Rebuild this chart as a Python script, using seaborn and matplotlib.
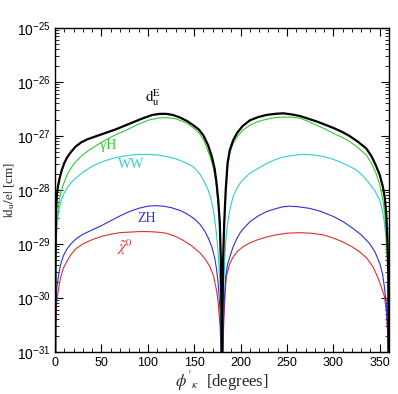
import numpy as np
import pandas as pd
import matplotlib
matplotlib.use("Agg")
import matplotlib.pyplot as plt
import seaborn as sns
from matplotlib.ticker import FixedLocator, LogLocator, FuncFormatter, NullFormatter

# ---- data (phi in degrees, log10 |d_u/e| in cm) ----
phi_dE = [0, 0.5, 1, 2, 3, 5, 7, 10, 13, 17, 22, 28, 35, 45, 55, 65, 75, 85, 95, 105, 113, 120, 127, 135, 142,
          149, 155, 160, 165, 169, 172, 174, 176, 177.6, 178.8, 179.5, 180,
          180.5, 181.2, 182.4, 184, 186, 188.4, 192, 196, 202, 210, 219, 228, 237, 246, 255, 264, 273, 282, 291,
          300, 309, 317.5, 326, 335.5, 341, 346, 350, 353.4, 355.5, 357, 358.3, 359.3, 360]
log_dE = [-33, -29.5, -28.4, -28.1, -27.95, -27.78, -27.65, -27.5, -27.4, -27.3, -27.2, -27.12, -27.06, -27.0,
          -26.94, -26.88, -26.81, -26.74, -26.67, -26.61, -26.59, -26.59, -26.61, -26.66, -26.72,
          -26.8, -26.88, -26.99, -27.17, -27.38, -27.6, -27.85, -28.2, -28.6, -29.3, -30.3, -33,
          -30.3, -29.3, -28.6, -28.0, -27.5, -27.26, -27.08, -26.95, -26.82, -26.71, -26.65, -26.61, -26.59,
          -26.58, -26.6, -26.63, -26.68, -26.73, -26.79,
          -26.85, -26.92, -27.0, -27.1, -27.23, -27.37, -27.55, -27.72, -27.94, -28.15, -28.43, -28.9, -29.6, -33]

phi_gH = [0, 0.5, 1, 2, 3, 5, 7, 10, 13, 17, 22, 28, 35, 45, 55, 65, 77, 90, 102, 111, 120, 130, 142, 150, 156,
          161, 165, 169, 172, 174, 176, 178, 179.3, 180,
          180.7, 182, 184, 186, 188.4, 192, 196, 202, 210, 219, 228, 237, 246, 255, 264, 273, 282, 291, 300, 309,
          317.5, 326, 335.5, 341, 346, 350, 353.4, 355.5, 357, 358.5, 359.4, 360]
log_gH = [-33, -30, -29.0, -28.6, -28.4, -28.15, -28.0, -27.85, -27.72, -27.6, -27.48, -27.38, -27.28, -27.17,
          -27.07, -26.98, -26.89, -26.78, -26.7, -26.67, -26.66, -26.68, -26.76, -26.86, -26.96,
          -27.1, -27.28, -27.48, -27.7, -27.94, -28.3, -28.85, -29.8, -33,
          -29.8, -28.9, -28.1, -27.58, -27.32, -27.14, -27.02, -26.9, -26.8, -26.73, -26.69, -26.66, -26.65,
          -26.65, -26.67, -26.73, -26.8, -26.87, -26.95, -27.02,
          -27.1, -27.21, -27.35, -27.5, -27.69, -27.9, -28.19, -28.45, -28.8, -29.3, -30.0, -33]

phi_WW = [0, 0.5, 1, 2, 3.5, 5, 7, 10, 14, 18, 23, 30, 41, 52, 63, 75, 88, 100, 110, 120, 130, 140, 149, 156,
          161, 165, 168, 171, 174, 176, 178, 179.3, 180,
          180.7, 182, 183.5, 185, 188, 192, 196, 200, 205, 210, 219, 228, 237, 246, 256, 267, 278, 289, 298, 307,
          316, 325, 332, 339, 345, 350, 353, 355, 357, 358.5, 359.4, 360]
log_WW = [-33, -30, -29.1, -28.75, -28.45, -28.3, -28.18, -28.05, -27.94, -27.85, -27.77, -27.67, -27.55, -27.47,
          -27.41, -27.37, -27.34, -27.34, -27.35, -27.38, -27.42, -27.49, -27.57, -27.7,
          -27.85, -28.0, -28.15, -28.4, -28.8, -29.2, -29.8, -30.6, -33,
          -30.6, -29.7, -29.1, -28.75, -28.4, -28.12, -27.97, -27.86, -27.77, -27.69, -27.6, -27.51, -27.44,
          -27.39, -27.36, -27.34, -27.35, -27.38, -27.42, -27.48,
          -27.55, -27.63, -27.74, -27.88, -28.02, -28.19, -28.38, -28.6, -28.95, -29.4, -30.1, -33]

phi_ZH = [0, 0.3, 1, 2, 3.6, 6, 9, 12.6, 17, 23, 30, 40, 50, 60, 70, 80, 90, 100, 108, 117, 126, 135, 143, 150,
          156, 161, 165, 169, 172, 174, 176, 178, 179.4, 180,
          180.6, 182, 184, 186, 188.4, 192, 196, 200, 205, 210, 219, 228, 237, 246, 253, 262, 274.5, 287, 300,
          311, 321, 330, 339, 345, 350, 353, 355, 357, 358.5, 359.5, 360]
log_ZH = [-33, -31, -30.1, -29.8, -29.6, -29.38, -29.22, -29.1, -29.0, -28.9, -28.82, -28.74, -28.66, -28.57,
          -28.48, -28.4, -28.34, -28.3, -28.29, -28.3, -28.33, -28.38, -28.45, -28.53,
          -28.63, -28.75, -28.88, -29.05, -29.25, -29.45, -29.75, -30.25, -31.0, -33,
          -31.0, -30.2, -29.6, -29.38, -29.24, -29.05, -28.9, -28.78, -28.68, -28.59, -28.48, -28.4, -28.35,
          -28.31, -28.3, -28.31, -28.34, -28.4, -28.49,
          -28.59, -28.71, -28.83, -28.99, -29.15, -29.36, -29.55, -29.79, -30.1, -30.6, -31.2, -33]

phi_chi = [0, 0.3, 1, 2, 3.6, 6, 9, 12.6, 17, 23, 30, 40, 50, 60, 70, 80, 91.5, 100, 110, 120, 130, 138, 147,
           156, 162, 167, 171, 174, 176, 178, 179.4, 180,
           180.6, 182, 183.5, 184.8, 188, 192, 197, 202.7, 210, 217, 228, 238.6, 250, 263.7, 276, 289, 300, 310,
           320, 328, 336, 342.6, 347, 351.6, 355.2, 357.5, 359, 359.7, 360]
log_chi = [-33, -31.2, -30.4, -30.05, -29.85, -29.62, -29.45, -29.33, -29.2, -29.08, -29.0, -28.92, -28.86,
           -28.82, -28.79, -28.78, -28.77, -28.77, -28.78, -28.8, -28.86, -28.93, -29.03,
           -29.16, -29.28, -29.42, -29.6, -29.85, -30.1, -30.55, -31.2, -33,
           -31.2, -30.4, -29.85, -29.6, -29.38, -29.24, -29.13, -29.05, -28.98, -28.93, -28.87, -28.83, -28.8,
           -28.79, -28.8, -28.83, -28.89, -28.96,
           -29.05, -29.14, -29.26, -29.42, -29.58, -29.79, -29.98, -30.3, -30.8, -31.3, -33]

x_ticks = [0, 50, 100, 150, 200, 250, 300, 350]
y_ticks = [1e-31, 1e-30, 1e-29, 1e-28, 1e-27, 1e-26, 1e-25]

series = [
    ("dE", phi_dE, log_dE, "#000000", 1.6),
    ("gH", phi_gH, log_gH, "#2fcc2f", 0.8),
    ("WW", phi_WW, log_WW, "#2fcfcf", 0.8),
    ("ZH", phi_ZH, log_ZH, "#2f2fdf", 0.8),
    ("chi", phi_chi, log_chi, "#df2f2f", 0.8),
]

sns.set_style("ticks")
plt.rcParams["mathtext.fontset"] = "custom"
plt.rcParams["mathtext.rm"] = "Liberation Sans"
plt.rcParams["mathtext.it"] = "Liberation Sans:italic"
plt.rcParams["mathtext.sf"] = "Liberation Sans"
plt.rcParams["font.family"] = ["Liberation Sans", "DejaVu Sans"]

fig = plt.figure(figsize=(3.98, 3.94), dpi=100)
ax = fig.add_axes([55 / 398, 1 - 352 / 394, (389 - 55) / 398, (352 - 28) / 394])

for name, xs, ls, col, lw in reversed(series):
    df = pd.DataFrame({"phi": xs, "d": np.power(10.0, ls)})
    sns.lineplot(data=df, x="phi", y="d", ax=ax, color=col, lw=lw, sort=False, estimator=None)

ax.set_yscale("log")
ax.set_xlim(0, 360)
ax.set_ylim(1e-31, 1e-25)

ax.xaxis.set_major_locator(FixedLocator(x_ticks))
ax.xaxis.set_minor_locator(FixedLocator(list(range(0, 361, 10))))
ax.yaxis.set_major_locator(FixedLocator(y_ticks))
ax.yaxis.set_minor_locator(LogLocator(base=10, subs=np.arange(2, 10), numticks=20))
ax.yaxis.set_minor_formatter(NullFormatter())
ax.yaxis.set_major_formatter(FuncFormatter(lambda v, p: r"$\mathsf{10^{%d}}$" % int(round(np.log10(v)))))
ax.xaxis.set_major_formatter(FuncFormatter(lambda v, p: "%d" % v))

ax.tick_params(which="both", direction="in", top=True, right=True, colors="black", labelsize=9)
ax.tick_params(which="major", length=6, width=0.8)
ax.tick_params(which="minor", length=3, width=0.6)
ax.tick_params(axis="y", which="major", labelsize=10, pad=3)
for s in ax.spines.values():
    s.set_linewidth(1.0)
    s.set_color("black")

ax.set_xlabel(r"$\phi'_{\kappa}$  [degrees]", fontsize=12, family="Liberation Serif",
              math_fontfamily="stix", labelpad=0)
ax.set_ylabel(r"$|\mathrm{d_u/e}|$ [cm]", fontsize=9.5, family="Liberation Serif",
              math_fontfamily="stix")
ax.yaxis.set_label_coords(-0.114, 0.5)

ax.text(105.5, 10 ** -26.28, r"$\mathrm{d_u^E}$", color="black", fontsize=11, ha="center", va="center",
        math_fontfamily="stix")
ax.text(57, 10 ** -27.17, "γH", color="#2fcc2f", fontsize=10, ha="center", va="center", family="Liberation Serif")
ax.text(82.5, 10 ** -27.52, "WW", color="#2fcfcf", fontsize=10, ha="center", va="center", family="Liberation Serif")
ax.text(98.7, 10 ** -28.52, "ZH", color="#2f2fdf", fontsize=10, ha="center", va="center", family="Liberation Serif")
ax.text(75.3, 10 ** -29.05, r"$\tilde{\chi}^0$", color="#df2f2f", fontsize=11, ha="center", va="center",
        math_fontfamily="stix")

fig.savefig("out.png", dpi=100)
